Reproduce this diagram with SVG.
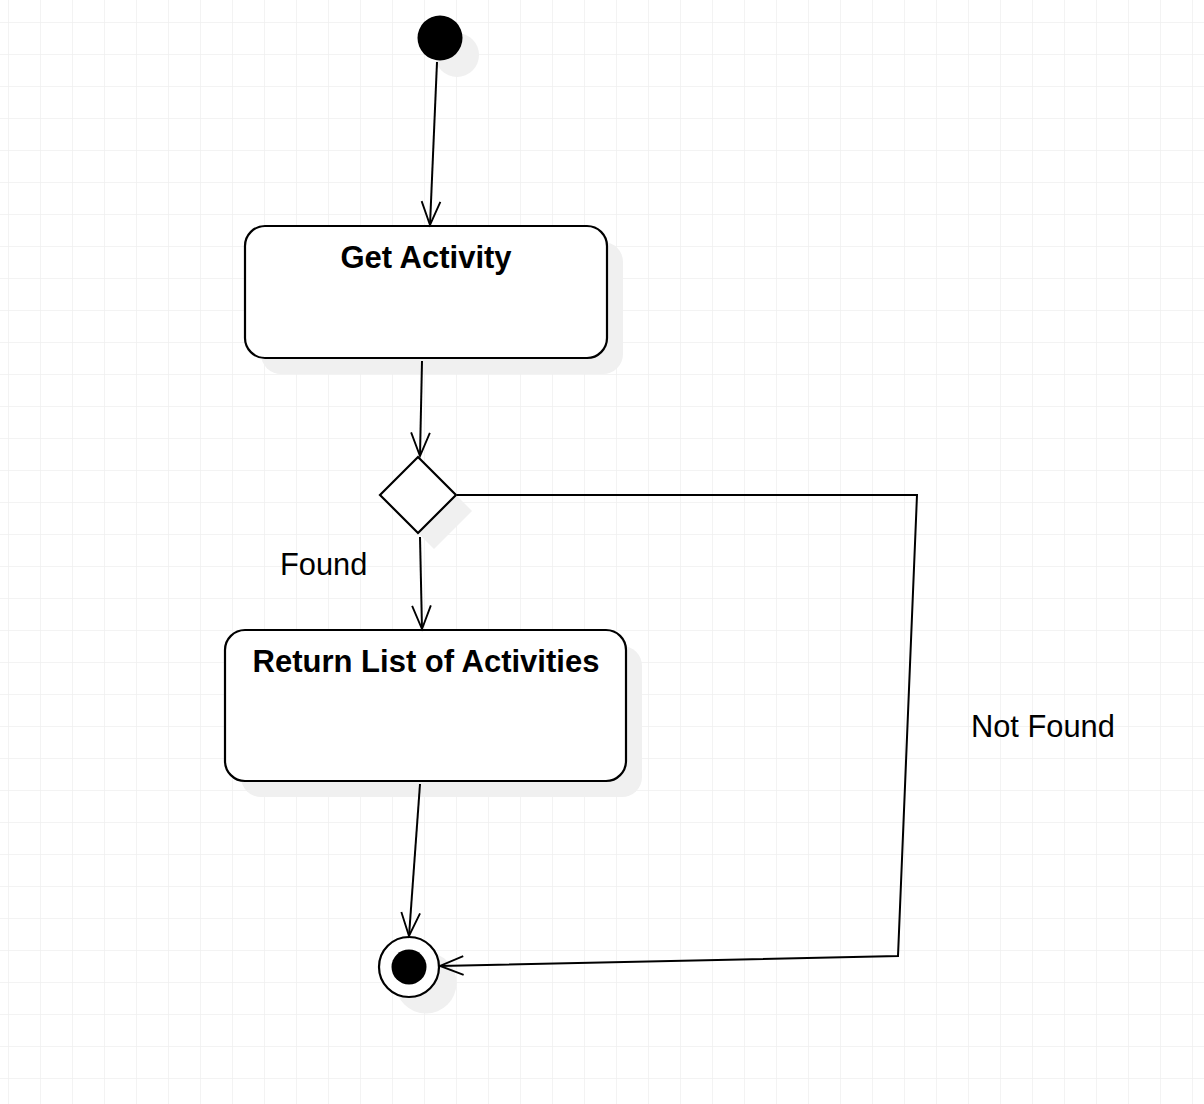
<svg xmlns="http://www.w3.org/2000/svg" width="1204" height="1104" viewBox="0 0 1204 1104">
  <defs>
    <pattern id="grid" x="8" y="22" width="32" height="32" patternUnits="userSpaceOnUse">
      <path d="M0,0 V32 M0,0 H32" fill="none" stroke="#efefef" stroke-width="1.5"/>
    </pattern>
    <marker id="open" markerWidth="30" markerHeight="30" viewBox="-28 -14 32 28" refX="0" refY="0" markerUnits="userSpaceOnUse" orient="auto">
      <path d="M-25,-10 L0,0 L-25,10" fill="none" stroke="#000" stroke-width="2"/>
    </marker>
    <style>
      .node { fill: #fff; stroke: #000; stroke-width: 2.2; }
      .shadow { fill: #f0f0f0; stroke: none; }
      .title { font-family: "Liberation Sans", Arial, sans-serif; font-weight: bold; font-size: 31px; text-anchor: middle; fill: #000; }
      .label { font-family: "Liberation Sans", Arial, sans-serif; font-size: 30.8px; fill: #000; }
      .edge { fill: none; stroke: #000; stroke-width: 2; marker-end: url(#open); }
    </style>
  </defs>
  <rect width="1204" height="1104" fill="#fff"/>
  <rect width="1204" height="1104" fill="url(#grid)"/>

  <g id="start">
    <circle class="shadow" cx="457" cy="55" r="22"/>
    <circle cx="440" cy="38" r="22.5" fill="#000"/>
  </g>

  <g id="get-activity">
    <rect class="shadow" x="261" y="242" width="362" height="132" rx="20"/>
    <rect class="node" x="245" y="226" width="362" height="132" rx="20"/>
    <text class="title" x="426" y="268">Get Activity</text>
  </g>

  <g id="decision">
    <polygon class="shadow" points="434,473 472,511 434,549 396,511"/>
    <polygon class="node" points="418,457 456,495 418,533 380,495"/>
  </g>

  <g id="return-list">
    <rect class="shadow" x="241" y="646" width="401" height="151" rx="20"/>
    <rect class="node" x="225" y="630" width="401" height="151" rx="20"/>
    <text class="title" x="426" y="672">Return List of Activities</text>
  </g>

  <g id="end">
    <circle class="shadow" cx="426" cy="983" r="30.5"/>
    <circle class="node" cx="409" cy="967" r="30"/>
    <circle cx="409" cy="967" r="17.5" fill="#000"/>
  </g>

  <g id="connectors">
    <path class="edge" d="M437,62 L430,225"/>
    <path class="edge" d="M422,361 L420,456"/>
    <path class="edge" d="M420,537 L422,629"/>
    <path class="edge" d="M420,784 L409,936"/>
    <path class="edge" d="M457,495 L917,495 L898,956 L440,966"/>
    <text class="label" x="280" y="575">Found</text>
    <text class="label" x="971" y="737">Not Found</text>
  </g>
</svg>
